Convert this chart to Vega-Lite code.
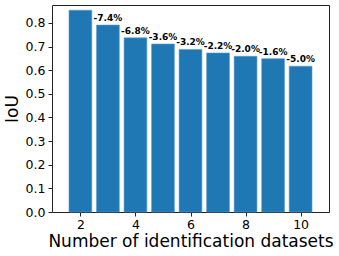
{
  "$schema": "https://vega.github.io/schema/vega-lite/v6.json",
  "autosize": "none",
  "width": 277,
  "height": 207,
  "padding": {"left": 52, "top": 5, "right": 10, "bottom": 44},
  "config": {
    "view": {"stroke": "#222222", "strokeWidth": 1},
    "font": "DejaVu Sans",
    "axis": {
      "domain": false,
      "grid": false,
      "tickColor": "#222222",
      "tickSize": 4,
      "labelColor": "black",
      "labelFontSize": 12.5,
      "labelFont": "DejaVu Sans",
      "titleFont": "DejaVu Sans",
      "titleFontSize": 17,
      "titleFontWeight": "normal",
      "titleColor": "black"
    }
  },
  "data": {
    "values": [
      {"n": 2, "iou": 0.854, "label": ""},
      {"n": 3, "iou": 0.791, "label": "-7.4%"},
      {"n": 4, "iou": 0.737, "label": "-6.8%"},
      {"n": 5, "iou": 0.711, "label": "-3.6%"},
      {"n": 6, "iou": 0.688, "label": "-3.2%"},
      {"n": 7, "iou": 0.673, "label": "-2.2%"},
      {"n": 8, "iou": 0.659, "label": "-2.0%"},
      {"n": 9, "iou": 0.649, "label": "-1.6%"},
      {"n": 10, "iou": 0.617, "label": "-5.0%"}
    ]
  },
  "encoding": {
    "x": {
      "field": "n",
      "type": "quantitative",
      "scale": {"domain": [1.15, 10.85], "nice": false, "zero": false},
      "axis": {"values": [2, 4, 6, 8, 10], "title": "Number of identification datasets", "labelPadding": 2, "titlePadding": 3, "labelAngle": 0}
    },
    "y": {
      "field": "iou",
      "type": "quantitative",
      "scale": {"domain": [0, 0.876], "nice": false},
      "axis": {"values": [0, 0.1, 0.2, 0.3, 0.4, 0.5, 0.6, 0.7, 0.8], "format": ".1f", "title": "IoU", "labelPadding": 3, "titlePadding": 4}
    }
  },
  "layer": [
    {
      "mark": {"type": "bar", "width": 22.8, "color": "#1f77b4", "stroke": "#5a9ad0", "strokeWidth": 0.6}
    },
    {
      "mark": {"type": "text", "baseline": "bottom", "dy": -2, "fontSize": 9, "fontWeight": "bold", "color": "black", "font": "DejaVu Sans"},
      "encoding": {"text": {"field": "label"}}
    }
  ]
}
